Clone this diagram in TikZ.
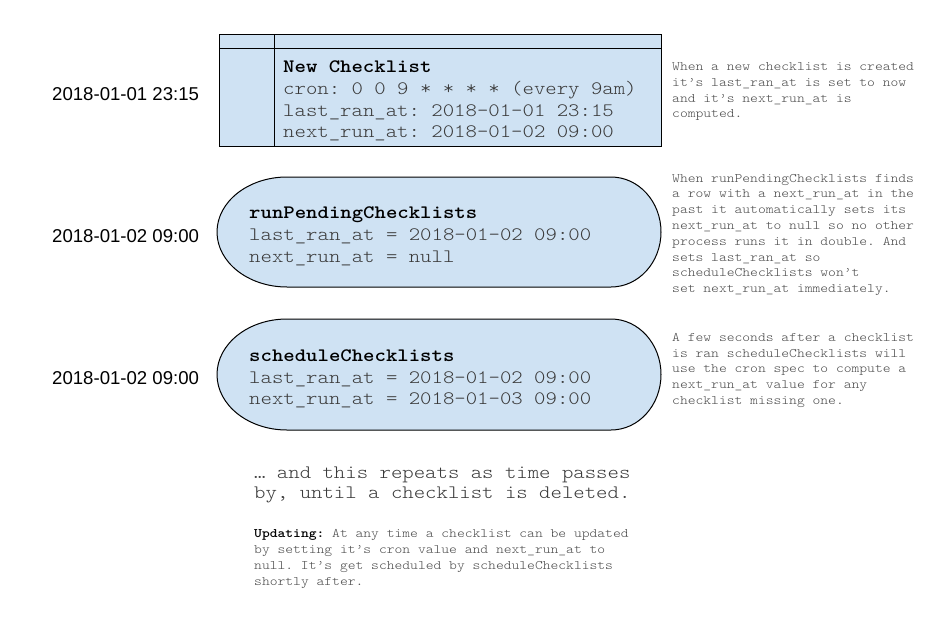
\documentclass[tikz,border=0pt]{standalone}
\usepackage{fontspec}
\setmainfont{Liberation Serif}
\setsansfont{Liberation Sans}
\setmonofont{Latin Modern Mono Light}[FakeStretch=1.143]
\definecolor{boxfill}{HTML}{CFE2F3}
\definecolor{txtgray}{HTML}{3A3A3A}
\definecolor{notegray}{HTML}{4A4A4A}
\begin{document}
\begin{tikzpicture}[x=1pt,y=-1pt,
  big/.style={anchor=base west, inner sep=0pt, font=\ttfamily\fontsize{19}{22}\selectfont, text=txtgray},
  bigbold/.style={anchor=base west, inner sep=0pt, font=\ttfamily\bfseries\fontsize{19}{22}\selectfont, text=black},
  note/.style={anchor=base west, inner sep=0pt, font=\ttfamily\fontsize{13}{16}\selectfont, text=notegray},
  datelbl/.style={anchor=base west, inner sep=0pt, font=\sffamily\fontsize{18.6}{22}\selectfont, text=black},
  shapeline/.style={draw=black, line width=1pt, fill=boxfill}]
\path[use as bounding box] (0,0) rectangle (952,626);

% table
\draw[shapeline] (219,35) rectangle (661,146);
\draw[line width=1pt] (219,49) -- (661,49);
\draw[line width=1pt] (274,35) -- (274,146);

% terminator 1
\draw[shapeline] (287,177) -- (611,177)
  arc[start angle=-90, end angle=90, x radius=50, y radius=55]
  -- (287,287)
  arc[start angle=90, end angle=270, x radius=70, y radius=55] -- cycle;
% terminator 2
\draw[shapeline] (287,319) -- (611,319)
  arc[start angle=-90, end angle=90, x radius=50, y radius=55.5]
  -- (287,430)
  arc[start angle=90, end angle=270, x radius=70, y radius=55.5] -- cycle;

% date labels
\node[datelbl] (d1) at (52,100) {2018-01-01 23:15};
\node[datelbl] (d2) at (52,242) {2018-01-02 09:00};
\node[datelbl] (d3) at (52,384) {2018-01-02 09:00};

% table text
\node[bigbold] (t1) at (283,72) {New Checklist};
\node[big] (t2) at (283,94) {cron: 0 0 9 * * * * (every 9am)};
\node[big] (t3) at (283,116) {last\_ran\_at: 2018-01-01 23:15};
\node[big] (t4) at (283,137.5) {next\_run\_at: 2018-01-02 09:00};

% terminator 1 text
\node[bigbold] (a1) at (249,218) {runPendingChecklists};
\node[big] (a2) at (249,240) {last\_ran\_at = 2018-01-02 09:00};
\node[big] (a3) at (249,262) {next\_run\_at = null};

% terminator 2 text
\node[bigbold] (b1) at (249,361) {scheduleChecklists};
\node[big] (b2) at (249,383) {last\_ran\_at = 2018-01-02 09:00};
\node[big] (b3) at (249,404) {next\_run\_at = 2018-01-03 09:00};

% notes right
\node[note] (n11) at (672,70.5) {When a new checklist is created};
\node[note] (n12) at (672,86.3) {it’s last\_ran\_at is set to now};
\node[note] (n13) at (672,102) {and it’s next\_run\_at is};
\node[note] (n14) at (672,117.8) {computed.};

\node[note] (n21) at (672,182) {When runPendingChecklists finds};
\node[note] (n22) at (672,197.8) {a row with a next\_run\_at in the};
\node[note] (n23) at (672,213.6) {past it automatically sets its};
\node[note] (n24) at (672,229.4) {next\_run\_at to null so no other};
\node[note] (n25) at (672,245.2) {process runs it in double. And};
\node[note] (n26) at (672,261) {sets last\_ran\_at so};
\node[note] (n27) at (672,276.8) {scheduleChecklists won’t};
\node[note] (n28) at (672,292.6) {set next\_run\_at immediately.};

\node[note] (n31) at (672,341.7) {A few seconds after a checklist};
\node[note] (n32) at (672,357.3) {is ran scheduleChecklists will};
\node[note] (n33) at (672,372.9) {use the cron spec to compute a};
\node[note] (n34) at (672,388.5) {next\_run\_at value for any};
\node[note] (n35) at (672,404.1) {checklist missing one.};

% bottom
\node[big] (r1) at (254,478) {… and this repeats as time passes};
\node[big] (r2) at (254,498.5) {by, until a checklist is deleted.};

\node[note] (u1) at (254,537.7) {\textbf{\color{black}Updating:} At any time a checklist can be updated};
\node[note] (u2) at (254,553.7) {by setting it’s cron value and next\_run\_at to};
\node[note] (u3) at (254,569.6) {null. It’s get scheduled by scheduleChecklists};
\node[note] (u4) at (254,585.5) {shortly after.};
\end{tikzpicture}
\end{document}
